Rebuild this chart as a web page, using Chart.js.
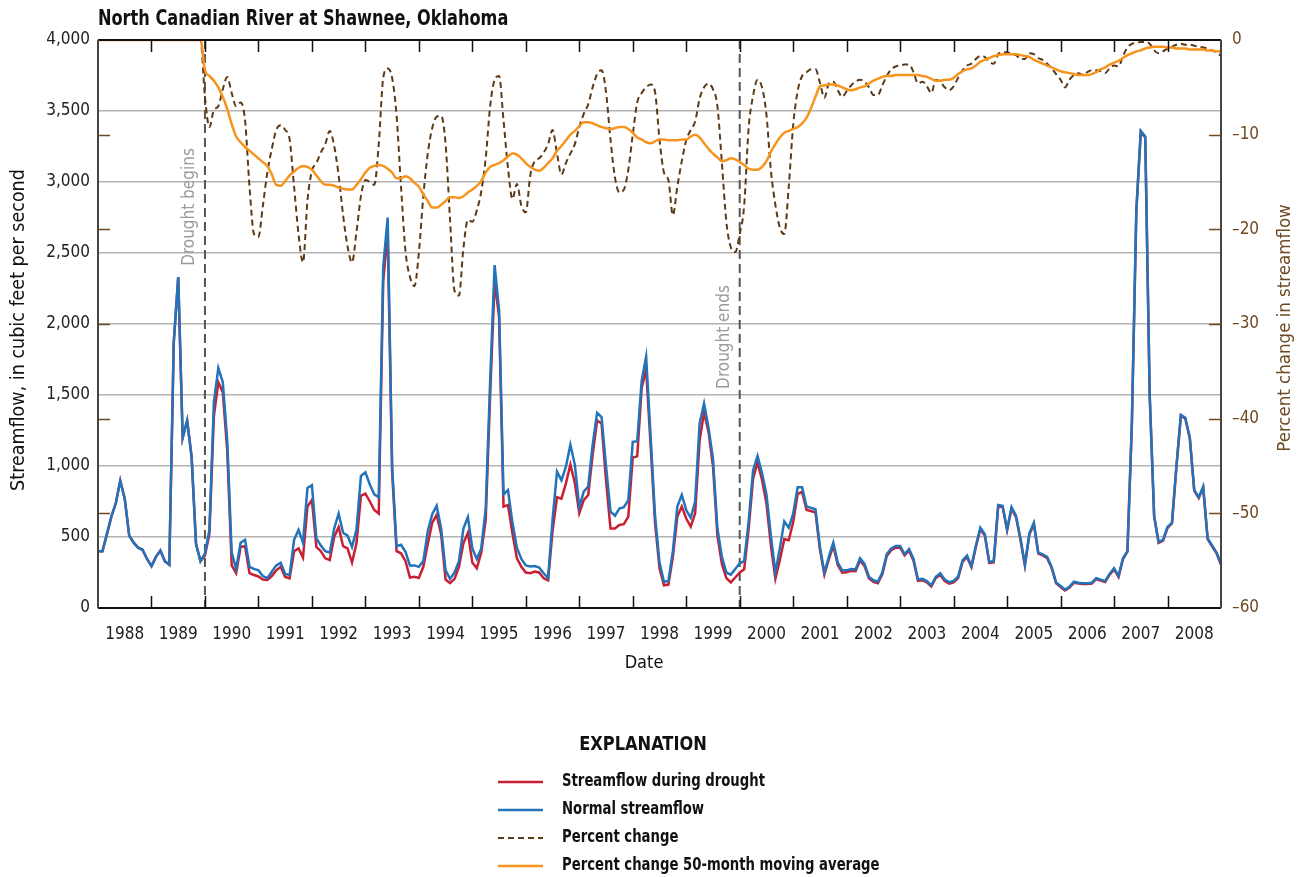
<!DOCTYPE html>
<html>
<head>
<meta charset="utf-8">
<title>North Canadian River at Shawnee, Oklahoma</title>
<script src="https://cdn.jsdelivr.net/npm/chart.js@4.4.1/dist/chart.umd.min.js"></script>
<style>
  html, body { margin: 0; padding: 0; background: #fff; }
  #wrap { width: 1302px; height: 877px; }
</style>
</head>
<body>
<div id="wrap"><canvas id="flowChart" width="1302" height="877"></canvas></div>
<script>
// Monthly values, Jan 1988 to Jan 2009 (253 months)
const startYear = 1988;
const endYear = 2009;

// Normal streamflow, cubic feet per second
const normalFlow = [
  400, 400, 520, 643, 739, 897, 770, 510, 460, 425, 410, 345,
  295, 360, 405, 330, 305, 1870, 2330, 1200, 1320, 1066, 450, 330,
  385, 550, 1450, 1690, 1590, 1180, 390, 275, 460, 480, 290, 275,
  265, 225, 210, 255, 300, 318, 240, 232, 480, 550, 460, 845,
  865, 490, 440, 400, 390, 560, 665, 530, 510, 430, 550, 930,
  955, 870, 800, 780, 2400, 2750, 1000, 435, 445, 395, 300, 300,
  290, 330, 540, 660, 720, 560, 265, 205, 250, 330, 560, 640,
  420, 345, 420, 700, 1600, 2415, 2100, 800, 830, 600, 425, 345,
  300, 292, 295, 285, 245, 210, 620, 960, 900, 995, 1150, 1010,
  710, 820, 855, 1150, 1375, 1345, 1000, 680, 650, 700, 710, 760,
  1170, 1175, 1600, 1770, 1210, 650, 320, 185, 190, 400, 714, 796,
  690, 635, 750, 1300, 1440, 1270, 1050, 560, 360, 250, 235, 275,
  315, 330, 610, 970, 1070, 950, 800, 510, 250, 420, 610, 565,
  665, 850, 850, 715, 705, 695, 430, 250, 360, 460, 320, 265,
  265, 275, 272, 350, 310, 220, 195, 185, 250, 380, 420, 437,
  437, 380, 415, 345, 200, 205, 190, 160, 220, 244, 200, 182,
  190, 220, 335, 370, 295, 440, 565, 520, 325, 330, 725, 720,
  555, 710, 650, 490, 305, 525, 600, 390, 378, 360, 290, 180,
  155, 130, 150, 185, 178, 175, 175, 178, 210, 200, 190, 240,
  280, 225, 350, 400, 1300, 2800, 3360, 3320, 1500, 650, 465, 480,
  570, 600, 1000, 1360, 1340, 1200, 830, 780, 855, 490, 440, 390,
  310
];

// Streamflow during drought, cubic feet per second
const droughtFlow = [
  400, 400, 520, 643, 739, 897, 770, 510, 460, 425, 410, 345,
  295, 360, 405, 330, 305, 1870, 2330, 1200, 1320, 1066, 450, 330,
  370, 520, 1350, 1590, 1520, 1110, 300, 245, 430, 435, 245, 232,
  222, 200, 198, 225, 265, 290, 218, 208, 400, 420, 355, 715,
  760, 430, 400, 350, 338, 500, 570, 435, 420, 320, 455, 790,
  805, 750, 690, 665, 2300, 2650, 960, 400, 385, 330, 215, 220,
  212, 290, 450, 600, 655, 520, 200, 175, 205, 290, 455, 530,
  320, 280, 390, 620, 1500, 2300, 2050, 714, 725, 526, 350, 290,
  250, 245, 256, 250, 210, 195, 540, 780, 770, 878, 1010, 880,
  667, 760, 796, 1080, 1320, 1300, 900, 560, 560, 585, 590, 643,
  1060, 1068, 1550, 1680, 1150, 600, 280, 160, 165, 360, 643, 714,
  630, 573, 667, 1180, 1378, 1240, 1000, 510, 310, 210, 180, 215,
  250, 272, 553, 913, 1025, 903, 737, 440, 207, 337, 485, 477,
  605, 804, 818, 691, 683, 673, 411, 235, 343, 440, 303, 249,
  251, 262, 260, 335, 296, 209, 184, 174, 238, 366, 407, 425,
  425, 370, 404, 333, 191, 196, 181, 151, 211, 233, 190, 172,
  181, 211, 324, 360, 288, 431, 555, 511, 318, 322, 714, 711,
  548, 699, 640, 480, 299, 518, 591, 383, 370, 351, 281, 174,
  148, 124, 144, 178, 172, 169, 169, 172, 203, 193, 183, 233,
  272, 219, 344, 397, 1295, 2792, 3353, 3313, 1494, 643, 458, 474,
  565, 596, 995, 1355, 1333, 1194, 825, 775, 848, 486, 435, 385,
  305
];

// Percent change in streamflow
const percentChange = [
  0, 0, 0, 0, 0, 0, 0, 0, 0, 0, 0, 0,
  0, 0, 0, 0, 0, 0, 0, 0, 0, 0, 0, 0,
  -6, -9.2, -7.4, -7, -5.2, -3.9, -5.6, -7, -6.6, -8.5, -15.5, -20.5,
  -20.8, -17.5, -14, -11.5, -9.5, -9, -9.5, -10.5, -15.5, -20.5, -23.5, -17,
  -13.8, -13, -11.9, -11, -9.6, -11.2, -14.3, -18.5, -21.8, -23.5, -20.3, -16.5,
  -14.8, -15, -15.3, -11, -4, -3, -4, -8, -15.5, -22.3, -25, -26,
  -22.5, -16.5, -12, -9.3, -8.1, -8, -11, -19, -26.5, -27, -22, -19,
  -19.2, -18, -16, -12.5, -7, -4.2, -3.8, -8.5, -13.5, -16.8, -15.2, -17.5,
  -18.2, -14.3, -12.8, -12.5, -11.9, -11, -9.5, -12, -14.2, -13, -12, -11,
  -9.2, -7.8, -6.8, -5, -3.6, -3.2, -5.5, -10.5, -14.5, -16.1, -15.8, -13.7,
  -10, -6.6, -5.6, -5, -4.7, -5.5, -10.5, -14, -14.8, -18.5, -15.5, -12.8,
  -10.6, -9.5, -8.6, -6.2, -5, -4.6, -5.2, -7, -13, -19.2, -21.9, -22.4,
  -20.5, -17.5, -9.3, -5.9, -4.2, -5, -7.9, -13.8, -17.4, -19.8, -20.5, -15.5,
  -9, -5.4, -3.8, -3.4, -3.1, -3.1, -4.5, -6.1, -4.6, -4.4, -5.3, -6,
  -5.4, -4.8, -4.4, -4.2, -4.4, -5, -5.8, -5.8, -4.8, -3.8, -3.1, -2.8,
  -2.7, -2.6, -2.6, -3.4, -4.6, -4.4, -4.9, -5.6, -4.2, -4.4, -5, -5.3,
  -4.9, -4, -3.2, -2.7, -2.5, -2, -1.7, -1.8, -2.3, -2.5, -1.5, -1.3,
  -1.3, -1.5, -1.6, -2, -2, -1.4, -1.5, -1.9, -2.1, -2.5, -3, -3.6,
  -4.2, -5, -4.2, -3.7, -3.5, -3.7, -3.4, -3.2, -3.2, -3.3, -3.5, -3,
  -2.7, -2.8, -1.7, -0.8, -0.4, -0.3, -0.2, -0.2, -0.4, -1.1, -1.4, -1.2,
  -0.9, -0.7, -0.5, -0.4, -0.5, -0.5, -0.6, -0.7, -0.8, -0.9, -1.1, -1.3,
  -1.7
];

// Percent change, 50-month moving average
const movingAverage = [
  0, 0, 0, 0, 0, 0, 0, 0, 0, 0, 0, 0,
  0, 0, 0, 0, 0, 0, 0, 0, 0, 0, 0, 0,
  -3.2, -3.8, -4.3, -5, -6, -7.3, -8.9, -10.2, -10.8, -11.3, -11.7, -12.1,
  -12.5, -12.9, -13.3, -14.2, -15.3, -15.4, -14.9, -14.3, -13.9, -13.5, -13.3, -13.4,
  -13.7, -14.3, -14.9, -15.3, -15.3, -15.4, -15.6, -15.7, -15.8, -15.8, -15.3, -14.7,
  -14, -13.5, -13.3, -13.2, -13.3, -13.6, -14, -14.6, -14.6, -14.4, -14.6, -15.1,
  -15.5, -16.3, -17, -17.7, -17.7, -17.4, -17, -16.6, -16.6, -16.7, -16.5, -16.1,
  -15.8, -15.4, -14.9, -14, -13.4, -13.2, -13, -12.7, -12.3, -12, -12.1, -12.5,
  -13, -13.4, -13.7, -13.8, -13.5, -13, -12.5, -11.7, -11.2, -10.6, -10, -9.6,
  -9.1, -8.7, -8.7, -8.8, -9, -9.2, -9.3, -9.4, -9.3, -9.2, -9.2, -9.4,
  -9.8, -10.3, -10.5, -10.8, -10.9, -10.7, -10.5, -10.5, -10.6, -10.6, -10.6, -10.5,
  -10.5, -10.2, -10, -10.3, -10.9, -11.5, -12, -12.4, -12.8, -12.7, -12.5, -12.6,
  -12.9, -13.2, -13.6, -13.7, -13.7, -13.4, -12.8, -11.8, -11, -10.3, -9.8, -9.6,
  -9.4, -9.2, -8.8, -8.2, -7.2, -6, -4.9, -4.8, -4.7, -4.7, -4.8, -5,
  -5.2, -5.3, -5.2, -5, -4.9, -4.6, -4.3, -4.1, -3.9, -3.8, -3.8, -3.7,
  -3.7, -3.7, -3.7, -3.7, -3.7, -3.8, -3.9, -4.1, -4.3, -4.3, -4.2, -4.2,
  -4, -3.6, -3.3, -3.1, -3, -2.7, -2.3, -2.1, -1.9, -1.7, -1.6, -1.5,
  -1.5, -1.5, -1.5, -1.6, -1.7, -1.8, -2.1, -2.3, -2.5, -2.7, -2.9, -3.1,
  -3.3, -3.4, -3.5, -3.6, -3.7, -3.7, -3.7, -3.6, -3.4, -3.1, -2.9, -2.6,
  -2.4, -2.2, -1.9, -1.6, -1.4, -1.2, -1.1, -0.9, -0.8, -0.7, -0.7, -0.7,
  -0.8, -0.8, -0.9, -0.9, -0.9, -1, -1, -1, -1, -1.1, -1.1, -1.2,
  -1.2
];

// Drought start and end, with their labels
const droughtYears = [1990, 2000];
const droughtLabels = ["Drought begins", "Drought ends"];

const FONT = "'Liberation Sans Narrow', 'DejaVu Sans Condensed', 'Arial Narrow', sans-serif";
const BROWN = "#6e4a24";

// Turn a monthly array into {x, y} points on a decimal-year axis
function toPoints(values) {
    return values.map((v, i) => ({ x: startYear + i / 12, y: v }));
}

// Text squeezed along its own direction, to get closer to a condensed face
function fillNarrow(ctx, text, x, y, sx, angle) {
    ctx.save();
    ctx.translate(x, y);
    if (angle) ctx.rotate(angle);
    ctx.scale(sx, 1);
    ctx.fillText(text, 0, 0);
    ctx.restore();
}

const decorations = {
    id: "decorations",
    beforeDatasetsDraw(chart) {
        const { ctx, chartArea: area, scales } = chart;
        ctx.save();
        // Drought markers
        ctx.strokeStyle = "#555555";
        ctx.lineWidth = 2;
        ctx.setLineDash([9, 5]);
        droughtYears.forEach((yr) => {
            const px = scales.x.getPixelForValue(yr);
            ctx.beginPath();
            ctx.moveTo(px, area.top);
            ctx.lineTo(px, area.bottom);
            ctx.stroke();
        });
        ctx.setLineDash([]);
        ctx.fillStyle = "#9a9a9a";
        ctx.font = "17px " + FONT;
        ctx.textAlign = "center";
        ctx.textBaseline = "middle";
        const labelY = [207, 337];
        droughtYears.forEach((yr, i) => {
            fillNarrow(ctx, droughtLabels[i], scales.x.getPixelForValue(yr) - 15, labelY[i], 1, -Math.PI / 2);
        });
        ctx.restore();
    },
    afterDraw(chart) {
        const { ctx, chartArea: area, scales } = chart;
        ctx.save();

        // Frame
        ctx.lineWidth = 2;
        ctx.strokeStyle = "#111111";
        ctx.beginPath();
        ctx.moveTo(area.left, area.top);
        ctx.lineTo(area.right, area.top);
        ctx.moveTo(area.left, area.bottom);
        ctx.lineTo(area.right, area.bottom);
        ctx.stroke();
        ctx.strokeStyle = "#444444";
        ctx.beginPath();
        ctx.moveTo(area.left, area.top);
        ctx.lineTo(area.left, area.bottom);
        ctx.moveTo(area.right, area.top);
        ctx.lineTo(area.right, area.bottom);
        ctx.stroke();

        // Inward year ticks, top and bottom
        ctx.lineWidth = 1.5;
        ctx.strokeStyle = "#111111";
        ctx.beginPath();
        for (let yr = startYear + 1; yr < endYear; yr++) {
            const px = Math.round(scales.x.getPixelForValue(yr)) + 0.5;
            ctx.moveTo(px, area.top);
            ctx.lineTo(px, area.top + 12);
            ctx.moveTo(px, area.bottom);
            ctx.lineTo(px, area.bottom - 12);
        }
        ctx.stroke();

        // Inward percent ticks, both sides
        ctx.strokeStyle = BROWN;
        ctx.beginPath();
        for (let v = -10; v > -60; v -= 10) {
            const py = Math.round(scales.y2.getPixelForValue(v)) + 0.5;
            ctx.moveTo(area.left, py);
            ctx.lineTo(area.left + 12, py);
            ctx.moveTo(area.right, py);
            ctx.lineTo(area.right - 12, py);
        }
        ctx.stroke();

        // Titles
        ctx.fillStyle = "#111111";
        ctx.font = "bold 21px " + FONT;
        ctx.textAlign = "left";
        ctx.textBaseline = "alphabetic";
        fillNarrow(ctx, "North Canadian River at Shawnee, Oklahoma", 98, 25, 0.855);

        ctx.font = "18px " + FONT;
        ctx.textAlign = "center";
        ctx.textBaseline = "middle";
        ctx.fillText("Date", 644, 663);

        ctx.font = "19.5px " + FONT;
        fillNarrow(ctx, "Streamflow, in cubic feet per second", 19, 330, 1, -Math.PI / 2);

        ctx.fillStyle = BROWN;
        ctx.font = "18.5px " + FONT;
        fillNarrow(ctx, "Percent change in streamflow", 1285, 328, 1, -Math.PI / 2);

        // Explanation
        ctx.fillStyle = "#111111";
        ctx.font = "bold 19px " + FONT;
        fillNarrow(ctx, "EXPLANATION", 643, 745, 0.95);
        ctx.font = "bold 17px " + FONT;
        ctx.textAlign = "left";
        chart.data.datasets.forEach((ds, i) => {
            const y = 782 + i * 28;
            ctx.strokeStyle = ds.borderColor;
            ctx.lineWidth = ds.borderWidth;
            ctx.setLineDash(ds.borderDash || []);
            ctx.beginPath();
            ctx.moveTo(498, y);
            ctx.lineTo(543, y);
            ctx.stroke();
            ctx.setLineDash([]);
            fillNarrow(ctx, ds.label, 562, y, 0.865);
        });

        ctx.restore();
    },
};

function generateChart() {
    const ctx = document.getElementById("flowChart").getContext("2d");
    const yearLabels = [];
    for (let yr = startYear; yr < endYear; yr++) yearLabels.push(yr);

    new Chart(ctx, {
        type: "line",
        data: {
            datasets: [
                {
                    label: "Streamflow during drought",
                    data: toPoints(droughtFlow),
                    borderColor: "#c81f32",
                    borderWidth: 2.5,
                    pointRadius: 0,
                    yAxisID: "y",
                    order: 4,
                },
                {
                    label: "Normal streamflow",
                    data: toPoints(normalFlow),
                    borderColor: "#2273ba",
                    borderWidth: 2.5,
                    pointRadius: 0,
                    yAxisID: "y",
                    order: 3,
                },
                {
                    label: "Percent change",
                    data: toPoints(percentChange),
                    borderColor: "#5c3a18",
                    borderWidth: 2,
                    borderDash: [6, 4],
                    pointRadius: 0,
                    cubicInterpolationMode: "monotone",
                    yAxisID: "y2",
                    order: 2,
                },
                {
                    label: "Percent change 50-month moving average",
                    data: toPoints(movingAverage),
                    borderColor: "#f7941d",
                    borderWidth: 2.5,
                    pointRadius: 0,
                    cubicInterpolationMode: "monotone",
                    yAxisID: "y2",
                    order: 1,
                },
            ],
        },
        options: {
            responsive: false,
            animation: false,
            devicePixelRatio: 1,
            layout: { padding: { top: 40, bottom: 199, left: 0, right: 0 } },
            plugins: {
                legend: { display: false },
                tooltip: { enabled: false },
                title: { display: false },
            },
            scales: {
                x: {
                    type: "linear",
                    position: "bottom",
                    min: startYear,
                    max: endYear,
                    afterBuildTicks: (axis) => {
                        axis.ticks = yearLabels.map((yr) => ({ value: yr + 0.5 }));
                    },
                    afterFit: (axis) => {
                        axis.height = 70;
                    },
                    ticks: {
                        autoSkip: false,
                        maxRotation: 0,
                        padding: 16,
                        color: "#222222",
                        font: { family: FONT, size: 17 },
                        callback: (value) => String(Math.floor(value)),
                    },
                    grid: { display: false, drawTicks: false },
                    border: { display: false },
                },
                y: {
                    position: "left",
                    min: 0,
                    max: 4000,
                    afterFit: (axis) => {
                        axis.width = 98;
                    },
                    ticks: {
                        stepSize: 500,
                        padding: 8,
                        color: "#222222",
                        font: { family: FONT, size: 17 },
                        callback: (value) => value.toLocaleString("en-US"),
                    },
                    grid: { color: "#b3b3b3", lineWidth: 1.5, drawTicks: false },
                    border: { display: false },
                },
                y2: {
                    position: "right",
                    min: -60,
                    max: 0,
                    afterFit: (axis) => {
                        axis.width = 81;
                    },
                    ticks: {
                        stepSize: 10,
                        padding: 11,
                        color: BROWN,
                        font: { family: FONT, size: 17 },
                        callback: (value) => (value < 0 ? "\u2013" + Math.abs(value) : String(value)),
                    },
                    grid: { display: false, drawTicks: false },
                    border: { display: false },
                },
            },
        },
        plugins: [decorations],
    });
}

generateChart();
</script>
</body>
</html>
